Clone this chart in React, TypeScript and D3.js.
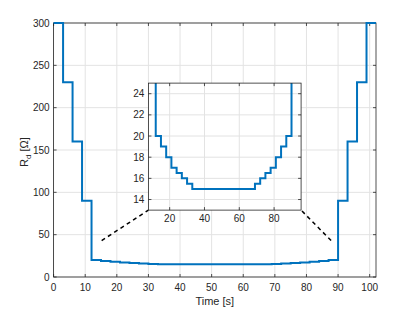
import React from 'react';
import * as d3 from 'd3';

// step boundaries (s) and resistance level on each step (Ohm)
const stepTimes = [0, 3, 6, 9, 12, 15, 18, 21, 24, 27, 30, 33, 69, 72, 75, 78, 81, 84, 87, 90, 93, 96, 99, 102];
const stepValues = [300, 230, 160, 90, 20, 19, 18, 17, 16.5, 16, 15.5, 15, 15.5, 16, 16.5, 17, 18, 19, 20, 90, 160, 230, 300];

const xTicks = [0, 10, 20, 30, 40, 50, 60, 70, 80, 90, 100];
const yTicks = [0, 50, 100, 150, 200, 250, 300];
const insetXTicks = [20, 40, 60, 80];
const insetYTicks = [14, 16, 18, 20, 22, 24];

// inset placement given in main data coords, zoom-line anchors too
const insetBox = { x0: 30, x1: 78.3, y0: 79, y1: 229 };
const zoomAnchors = [{ x: 15.2, y: 43 }, { x: 87.8, y: 43 }];

const W = 415, H = 312;
const AX = '#262626';
const GRID = '#e3e3e3';
const BLUE = '#0072BD';
const FONT = '"Liberation Sans", Arial, sans-serif';

const points: [number, number][] = [];
stepValues.forEach((v, i) => {
  points.push([stepTimes[i], v]);
  points.push([stepTimes[i + 1], v]);
});

const App = () => {
  const x = d3.scaleLinear().domain([0, 102]).range([53.6, 376]);
  const y = d3.scaleLinear().domain([0, 300]).range([277, 23]);

  const ix = d3.scaleLinear().domain([7.8, 95.5]).range([x(insetBox.x0), x(insetBox.x1)]);
  const iy = d3.scaleLinear().domain([13, 25]).range([y(insetBox.y0), y(insetBox.y1)]);

  const mainLine = d3.line<[number, number]>().x(d => x(d[0])).y(d => y(d[1]));
  const insetLine = d3.line<[number, number]>().x(d => ix(d[0])).y(d => iy(Math.min(d[1], 40)));

  const [X0, X1] = x.range();
  const [Y0, Y1] = y.range();
  const [iX0, iX1] = ix.range();
  const [iY0, iY1] = iy.range();

  return (
    <svg width={W} height={H} style={{ position: 'absolute', left: 0, top: 0, background: '#fff' }} fontFamily={FONT}>
      {/* main grid */}
      {xTicks.map(t => <line key={'gx' + t} x1={x(t)} x2={x(t)} y1={Y0} y2={Y1} stroke={GRID} strokeWidth={1} />)}
      {yTicks.map(t => <line key={'gy' + t} x1={X0} x2={X1} y1={y(t)} y2={y(t)} stroke={GRID} strokeWidth={1} />)}

      {/* main box and ticks */}
      <rect x={X0} y={Y1} width={X1 - X0} height={Y0 - Y1} fill="none" stroke={AX} strokeWidth={0.8} />
      {xTicks.map(t => (
        <g key={'tx' + t}>
          <line x1={x(t)} x2={x(t)} y1={Y0} y2={Y0 - 3} stroke={AX} strokeWidth={0.8} />
          <line x1={x(t)} x2={x(t)} y1={Y1} y2={Y1 + 3} stroke={AX} strokeWidth={0.8} />
          <text x={x(t)} y={Y0 + 14} textAnchor="middle" fontSize={10} fill={AX}>{t}</text>
        </g>
      ))}
      {yTicks.map(t => (
        <g key={'ty' + t}>
          <line x1={X0} x2={X0 + 3} y1={y(t)} y2={y(t)} stroke={AX} strokeWidth={0.8} />
          <line x1={X1} x2={X1 - 3} y1={y(t)} y2={y(t)} stroke={AX} strokeWidth={0.8} />
          <text x={X0 - 4} y={y(t)} dy="0.35em" textAnchor="end" fontSize={10} fill={AX}>{t}</text>
        </g>
      ))}

      <path d={mainLine(points) || ''} fill="none" stroke={BLUE} strokeWidth={2} />

      {/* zoom connector lines */}
      <line x1={x(zoomAnchors[0].x)} y1={y(zoomAnchors[0].y)} x2={iX0} y2={iY0} stroke="#000" strokeWidth={1.5} strokeDasharray="4,3.5" />
      <line x1={x(zoomAnchors[1].x)} y1={y(zoomAnchors[1].y)} x2={iX1} y2={iY0} stroke="#000" strokeWidth={1.5} strokeDasharray="4,3.5" />

      {/* inset */}
      <rect x={iX0} y={iY1} width={iX1 - iX0} height={iY0 - iY1} fill="#fff" />
      <clipPath id="insetClip"><rect x={iX0} y={iY1} width={iX1 - iX0} height={iY0 - iY1} /></clipPath>
      {insetXTicks.map(t => <line key={'igx' + t} x1={ix(t)} x2={ix(t)} y1={iY0} y2={iY1} stroke={GRID} strokeWidth={1} />)}
      {insetYTicks.map(t => <line key={'igy' + t} x1={iX0} x2={iX1} y1={iy(t)} y2={iy(t)} stroke={GRID} strokeWidth={1} />)}
      <path d={insetLine(points) || ''} fill="none" stroke={BLUE} strokeWidth={2} clipPath="url(#insetClip)" />
      <rect x={iX0} y={iY1} width={iX1 - iX0} height={iY0 - iY1} fill="none" stroke={AX} strokeWidth={0.8} />
      {insetXTicks.map(t => (
        <g key={'itx' + t}>
          <line x1={ix(t)} x2={ix(t)} y1={iY0} y2={iY0 - 3} stroke={AX} strokeWidth={0.8} />
          <line x1={ix(t)} x2={ix(t)} y1={iY1} y2={iY1 + 3} stroke={AX} strokeWidth={0.8} />
          <text x={ix(t)} y={iY0 + 12} textAnchor="middle" fontSize={10} fill={AX}>{t}</text>
        </g>
      ))}
      {insetYTicks.map(t => (
        <g key={'ity' + t}>
          <line x1={iX0} x2={iX0 + 3} y1={iy(t)} y2={iy(t)} stroke={AX} strokeWidth={0.8} />
          <line x1={iX1} x2={iX1 - 3} y1={iy(t)} y2={iy(t)} stroke={AX} strokeWidth={0.8} />
          <text x={iX0 - 4} y={iy(t)} dy="0.35em" textAnchor="end" fontSize={10} fill={AX}>{t}</text>
        </g>
      ))}

      {/* axis labels */}
      <text x={(X0 + X1) / 2} y={305} textAnchor="middle" fontSize={11} fill={AX}>Time [s]</text>
      <text transform={`translate(28,${(Y0 + Y1) / 2 + 2}) rotate(-90)`} textAnchor="middle" fontSize={11} fill={AX}>
        R<tspan fontSize={8} dy={3}>d</tspan><tspan dy={-3}> [Ω]</tspan>
      </text>
    </svg>
  );
};

export default App;
